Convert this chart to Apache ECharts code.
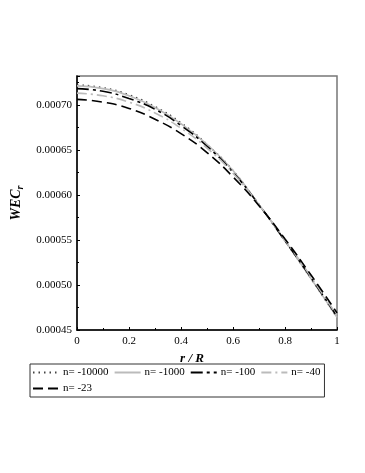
<!DOCTYPE html>
<html>
<head>
<meta charset="utf-8">
<script src="https://cdn.jsdelivr.net/npm/echarts@6/dist/echarts.min.js"></script>
<style>
html, body { margin: 0; padding: 0; background: #fff; }
#main { width: 365px; height: 473px; }
</style>
</head>
<body>
<div id="main"></div>
<script>
// r/R positions
var rValues = [0, 0.1, 0.2, 0.3, 0.4, 0.5, 0.6, 0.7, 0.8, 0.9, 1.0];
// WEC_r
var wecN10000 = [0.000722, 0.000719, 0.000711, 0.000698, 0.000680, 0.000656, 0.000627, 0.000589, 0.000549, 0.000507, 0.000464];
var wecN1000  = [0.000721, 0.000718, 0.000710, 0.000697, 0.000679, 0.000656, 0.000627, 0.000589, 0.000549, 0.000507, 0.000464];
var wecN100   = [0.000718, 0.000715, 0.000707, 0.000695, 0.000677, 0.000654, 0.000625, 0.000589, 0.000549, 0.000508, 0.000465];
var wecN40    = [0.000713, 0.000710, 0.000703, 0.000691, 0.000674, 0.000652, 0.000624, 0.000589, 0.000550, 0.000509, 0.000466];
var wecN23    = [0.000706, 0.000703, 0.000696, 0.000684, 0.000668, 0.000647, 0.000620, 0.000588, 0.000551, 0.000511, 0.000469];
var seriesNames = ['n= -10000', 'n= -1000', 'n= -100', 'n= -40', 'n= -23'];

function pairs(ys) {
    return rValues.map(function (r, i) { return [r, ys[i]]; });
}

var font = 'Liberation Serif';
var chart = echarts.init(document.getElementById('main'));

function line(name, ys, color, type) {
    return {
        name: name,
        type: 'line',
        data: pairs(ys),
        smooth: true,
        symbol: 'none',
        lineStyle: { color: color, width: 1.6, type: type },
        itemStyle: { color: color }
    };
}

chart.setOption({
    animation: false,
    grid: {
        left: 77, right: 28, top: 76, bottom: 143,
        show: true, borderColor: '#777', borderWidth: 1.5
    },
    xAxis: {
        type: 'value',
        min: 0, max: 1, interval: 0.2,
        name: '{it|r / R}',
        nameLocation: 'middle',
        nameGap: 18,
        nameTextStyle: { rich: { it: { fontFamily: font, fontStyle: 'italic', fontWeight: 'bold', fontSize: 13, color: '#000', padding: [0, 30, 0, 0] } } },
        axisLine: { lineStyle: { color: '#000', width: 1.5 } },
        axisTick: { inside: true, length: 3, lineStyle: { color: '#000' } },
        minorTick: { show: true, splitNumber: 2, length: 2, lineStyle: { color: '#000' } },
        axisLabel: { fontFamily: font, fontSize: 11, color: '#000', margin: 6 },
        splitLine: { show: false }
    },
    yAxis: {
        type: 'value',
        min: 0.00045, max: 0.000732, interval: 0.00005,
        name: '{b|WEC}{s|r}',
        nameLocation: 'middle',
        nameRotate: 90,
        nameGap: 44,
        nameTextStyle: {
            rich: {
                b: { fontFamily: font, fontStyle: 'italic', fontWeight: 'bold', fontSize: 14, color: '#000' },
                s: { fontFamily: font, fontStyle: 'italic', fontWeight: 'bold', fontSize: 10, color: '#000', verticalAlign: 'bottom', padding: [8, 0, 0, 0] }
            }
        },
        axisLine: { show: true, lineStyle: { color: '#000', width: 1.5 } },
        axisTick: { inside: true, length: 3, lineStyle: { color: '#000' } },
        minorTick: { show: true, splitNumber: 2, length: 2, lineStyle: { color: '#000' } },
        axisLabel: {
            fontFamily: font, fontSize: 11, color: '#000', margin: 5,
            showMaxLabel: false,
            formatter: function (v) { return v.toFixed(5); }
        },
        splitLine: { show: false }
    },
    legend: {
        data: seriesNames,
        left: 30, top: 364, width: 305,
        orient: 'horizontal',
        borderColor: '#333', borderWidth: 1,
        padding: [3, 4, 3, 2],
        itemGap: 5, itemWidth: 26, itemHeight: 10,
        itemStyle: { opacity: 0 },
        textStyle: { fontFamily: font, fontSize: 11, color: '#000', padding: [0, 0, 0, -1] }
    },
    series: [
        line(seriesNames[0], wecN10000, '#444', [1.5, 4]),
        line(seriesNames[1], wecN1000, '#bbb', 'solid'),
        line(seriesNames[2], wecN100, '#000', [12, 4, 3, 4]),
        line(seriesNames[3], wecN40, '#bbb', [10, 4, 2, 4]),
        line(seriesNames[4], wecN23, '#000', [10, 5])
    ]
});
</script>
</body>
</html>
